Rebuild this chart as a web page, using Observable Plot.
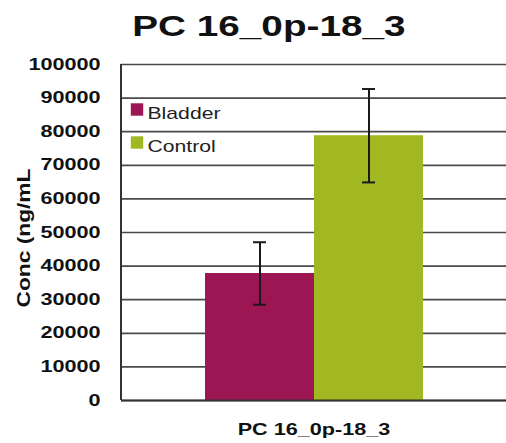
<!DOCTYPE html>
<html>
<head>
<meta charset="utf-8">
<script src="https://cdn.jsdelivr.net/npm/d3@7"></script>
<script src="https://cdn.jsdelivr.net/npm/@observablehq/plot@0.6"></script>
<style>
  html, body { margin: 0; padding: 0; background: #fff; }
  body { width: 506px; height: 443px; position: relative; overflow: hidden; font-family: "Liberation Sans", Arial, sans-serif; }
  #title { position: absolute; top: 11px; left: 16px; width: 506px; text-align: center; line-height: 30px; }
  #title span { display: inline-block; font-size: 30px; font-weight: bold; color: #111; transform: scaleX(1.29); transform-origin: center; }
  #chart { position: absolute; top: 56px; left: 0; }
</style>
</head>
<body>
<div id="title"><span></span></div>
<div id="chart"></div>
<script>
// ---- data ----
const titleText = "PC 16_0p-18_3";
const category = "PC 16_0p-18_3";
const groups = ["Bladder", "Control"];
const means = [37800, 78800];
const errors = [9300, 13900];
const yTicks = [0, 10000, 20000, 30000, 40000, 50000, 60000, 70000, 80000, 90000, 100000];
const yLabel = "Conc (ng/mL";
const colors = ["#9b1652", "#a2b823"];

document.querySelector("#title span").textContent = titleText;

const rows = groups.map((g, i) => ({
  category,
  group: g,
  mean: means[i],
  lo: means[i] - errors[i],
  hi: means[i] + errors[i]
}));

const errStroke = "#1a1a1a";
const legendMarks = groups.flatMap((g, i) => [
  Plot.dot([g], {frameAnchor: "top-left", dx: 15.5, dy: 45 + i * 33, symbol: "square", r: 7, fill: colors[i], stroke: null}),
  Plot.text([g], {frameAnchor: "top-left", dx: 26, dy: 48.6 + i * 33, textAnchor: "start", lineAnchor: "middle", fontSize: 17, fill: "#1e1e1e"})
]);

// left axis line drawn from the plot's own dimensions
const leftAxisLine = (index, scales, values, dims) =>
  d3.create("svg:line")
    .attr("x1", dims.marginLeft).attr("x2", dims.marginLeft)
    .attr("y1", dims.marginTop).attr("y2", dims.height - dims.marginBottom)
    .attr("stroke", "#333").attr("stroke-width", 2)
    .node();

const chart = Plot.plot({
  width: 506,
  height: 387,
  marginTop: 8,
  marginBottom: 43,
  marginLeft: 121,
  marginRight: 0,
  style: {fontFamily: '"Liberation Sans", Arial, sans-serif', fontSize: "16px", color: "#111", background: "#fff"},
  fx: {domain: [category], padding: 0, label: null},
  x: {domain: groups, paddingInner: 0, paddingOuter: 0.758, axis: null},
  y: {domain: [0, 100000], label: null},
  color: {domain: groups, range: colors},
  marks: [
    Plot.ruleY(yTicks, {stroke: "#4a4a4a", strokeWidth: 1.7}),
    Plot.barY(rows, {fx: "category", x: "group", y: "mean", fill: "group"}),
    Plot.ruleX(rows, {fx: "category", x: "group", y1: "lo", y2: "hi", stroke: errStroke, strokeWidth: 2}),
    Plot.tickY(rows, {fx: "category", x: "group", y: "lo", stroke: errStroke, strokeWidth: 2, insetLeft: 48, insetRight: 48}),
    Plot.tickY(rows, {fx: "category", x: "group", y: "hi", stroke: errStroke, strokeWidth: 2, insetLeft: 48, insetRight: 48}),
    Plot.ruleY([0], {stroke: "#333", strokeWidth: 2}),
    leftAxisLine,
    Plot.axisY({ticks: yTicks, tickSize: 0, tickPadding: 21, tickFormat: d => String(d), fontWeight: "bold", fontSize: 16, label: null}),
    Plot.axisFx({anchor: "bottom", tickSize: 0, tickPadding: 23, fontWeight: "bold", fontSize: 16.5, label: null}),
    Plot.text([yLabel], {frameAnchor: "bottom-left", rotate: -90, dx: -97, dy: -93, textAnchor: "start", lineAnchor: "middle", fontWeight: "bold", fontSize: 18, fill: "#111"}),
    ...legendMarks
  ]
});

document.getElementById("chart").append(chart);

// stretch texts horizontally to match the reference's wide lettering
chart.querySelectorAll("text").forEach(t => {
  const s = t.textContent;
  const len = t.getComputedTextLength();
  let target;
  if (s === yLabel) target = 139;
  else if (groups.includes(s)) target = len * 1.245;
  else if (s === category) target = len * 1.31;
  else target = len * 1.35;
  t.setAttribute("textLength", target.toFixed(1));
  t.setAttribute("lengthAdjust", "spacingAndGlyphs");
});
</script>
</body>
</html>
